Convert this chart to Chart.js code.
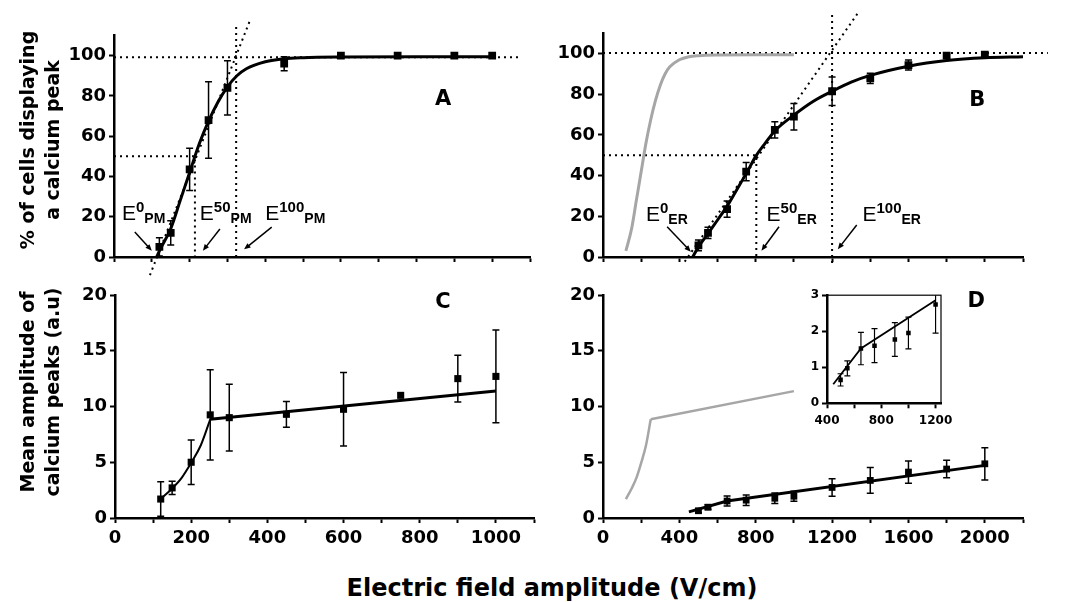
<!DOCTYPE html>
<html>
<head>
<meta charset="utf-8">
<script src="https://cdn.jsdelivr.net/npm/chart.js@4.4.0/dist/chart.umd.min.js"></script>
<style>
body { margin: 0; background: #fff; width: 1072px; height: 602px; position: relative; overflow: hidden; font-family: "DejaVu Sans", sans-serif; }
canvas { position: absolute; }
.ytitle { position: absolute; font-weight: bold; font-size: 19px; line-height: 25px; text-align: center; white-space: nowrap; transform: translate(-50%, -50%) rotate(-90deg); }
.xtitle { position: absolute; font-weight: bold; font-size: 24px; white-space: nowrap; transform: translateX(-50%); }
</style>
</head>
<body>
<canvas id="chartA" width="550" height="280" style="left:0;top:0"></canvas>
<canvas id="chartB" width="522" height="280" style="left:550px;top:0"></canvas>
<canvas id="chartC" width="550" height="280" style="left:0;top:280px"></canvas>
<canvas id="chartD" width="522" height="280" style="left:550px;top:280px"></canvas>
<canvas id="chartInset" width="180" height="140" style="left:780px;top:285px"></canvas>
<div class="ytitle" style="left:40px;top:140px">% of cells displaying<br>a calcium peak</div>
<div class="ytitle" style="left:40px;top:392px">Mean amplitude of<br>calcium peaks (a.u)</div>
<div class="xtitle" style="left:552px;top:574px">Electric field amplitude (V/cm)</div>
<script>
const BOLD = '"DejaVu Sans", sans-serif';
const FONT = '"Liberation Sans", Arial, sans-serif';

// A : % of cells, plasma membrane
const xA = [120, 150, 200, 250, 300, 450, 600, 750, 900, 1000];
const yA = [5, 12, 43.5, 68, 84, 96, 100, 100, 100, 100];
const errA = [4.5, 6, 10.5, 19, 13.5, 3.5, 0, 0, 0, 0];
const curveAx = [113, 120, 150, 175, 200, 225, 250, 275, 300, 325, 350, 400, 450, 500, 600, 800, 1000];
const curveAy = [0, 3, 14, 28, 42, 56, 67.5, 77, 84.5, 90, 93.5, 97, 98.5, 99, 99.3, 99.4, 99.4];

// B : % of cells, endoplasmic reticulum
const xB = [500, 550, 650, 750, 900, 1000, 1200, 1400, 1600, 1800, 2000];
const yB = [5.7, 11.9, 23.5, 42, 62.5, 69, 81.5, 87.8, 94.4, 99, 99.5];
const errB = [2.6, 2.75, 4, 4.5, 4, 6.5, 7, 2.5, 2.5, 1, 0.5];
const curveBx = [470, 500, 550, 600, 650, 700, 750, 800, 850, 900, 1000, 1100, 1200, 1300, 1400, 1600, 1800, 2000, 2200];
const curveBy = [0, 5, 11.5, 18.2, 25, 33, 41, 49.5, 56, 62, 69.8, 76.5, 81.5, 86, 89.3, 93.8, 96.6, 98, 98.5];

// C : mean amplitude, plasma membrane
const xC = [120, 150, 200, 250, 300, 450, 600, 750, 900, 1000];
const yC = [1.7, 2.7, 5.0, 9.25, 9.0, 9.3, 9.75, 11.0, 12.5, 12.7];
const errC = [1.55, 0.6, 2.0, 4.05, 3.0, 1.15, 3.3, 0, 2.1, 4.15];
const curveCx = [120, 150, 175, 200, 225, 250];
const curveCy = [1.7, 2.65, 3.6, 4.95, 6.5, 8.85];
const lineCx = [250, 1000];
const lineCy = [8.85, 11.38];

// D : mean amplitude, endoplasmic reticulum
const xD = [500, 550, 650, 750, 900, 1000, 1200, 1400, 1600, 1800, 2000];
const yD = [0.65, 0.97, 1.52, 1.6, 1.77, 1.95, 2.74, 3.37, 4.12, 4.39, 4.86];
const errD = [0.17, 0.21, 0.45, 0.47, 0.47, 0.44, 0.79, 1.15, 1.0, 0.78, 1.45];
const lineDx = [450, 650, 2000];
const lineDy = [0.55, 1.52, 4.72];
const insetLineX = [446, 650, 1200];
const insetLineY = [0.53, 1.52, 2.86];

// dotted construction lines
const dotA = [
  [[0, 1075], [99.2, 99.2]],
  [[0, 214, 214], [50, 50, 0]],
  [[323, 323], [0, 115]],
  [[95, 360], [-9, 117.7]]
];
const dotB = [
  [[0, 2330], [100.3, 100.3]],
  [[0, 803, 803], [50, 50, 0]],
  [[1200, 1200], [-3, 121]],
  [[428, 1343], [-2.3, 121]]
];

// labels: [x, y, sup, sub] (data units, left / baseline) and arrows [x1, y1, x2, y2]
const marks = {
  chartA: {
    letter: ['A', 870, 78],
    labels: [[21, 18.4, '0', 'PM'], [227, 18.4, '50', 'PM'], [400, 18.4, '100', 'PM']],
    arrows: [[55, 12.4, 100, 3.1], [280, 13.9, 235, 3.1], [417, 14.8, 344, 3.8]]
  },
  chartB: {
    letter: ['B', 1960, 77],
    labels: [[225, 17.8, '0', 'ER'], [857, 17.8, '50', 'ER'], [1359, 17.8, '100', 'ER']],
    arrows: [[336, 14.9, 460, 2.6], [922, 14.9, 830, 3.1], [1329, 15.7, 1230, 3.8]]
  },
  chartC: { letter: ['C', 861, 19.3] },
  chartD: { letter: ['D', 1955, 19.4] }
};

function pts(xs, ys) { return xs.map((x, i) => ({ x: x, y: ys[i] })); }

function pointSet(xs, ys, errs, r) {
  return { data: pts(xs, ys), errors: errs, showLine: false, pointStyle: 'rect', pointRadius: r,
    backgroundColor: '#000', borderColor: '#000', borderWidth: 0 };
}
function lineSet(xs, ys, color, w, smooth) {
  return { data: pts(xs, ys), showLine: true, borderColor: color, borderWidth: w, pointRadius: 0,
    tension: smooth ? 0.4 : 0, cubicInterpolationMode: smooth ? 'monotone' : 'default' };
}
function dotSet(d) {
  return { data: pts(d[0], d[1]), showLine: true, borderColor: '#000', borderWidth: 2,
    borderDash: [2, 4], pointRadius: 0, clip: false };
}

// tick values every `step` from min, labels only on multiples of `every`
function stepTicks(min, max, step) {
  return axis => {
    const t = [];
    for (let v = min; v <= max + 1e-9; v += step) t.push({ value: v });
    axis.ticks = t;
  };
}

function xAxis(min, max, step, every, labels, h, size) {
  return {
    type: 'linear', min: min, max: max,
    border: { color: '#000', width: 2.5 },
    grid: { drawOnChartArea: false, tickLength: 5, tickWidth: 2, tickColor: '#000' },
    ticks: { autoSkip: false, maxRotation: 0, padding: 5, color: '#000',
      font: { family: BOLD, size: size, weight: 'bold' },
      callback: v => (labels && Math.round(v) % every === 0 ? String(Math.round(v)) : '') },
    afterBuildTicks: stepTicks(min, max, step),
    afterFit: s => { s.height = h; }
  };
}
function yAxis(min, max, step, w, size) {
  return {
    type: 'linear', min: min, max: max,
    border: { color: '#000', width: 2.5 },
    grid: { drawOnChartArea: false, tickLength: 5, tickWidth: 2, tickColor: '#000' },
    ticks: { autoSkip: false, padding: 3, color: '#000',
      font: { family: BOLD, size: size, weight: 'bold' } },
    afterBuildTicks: stepTicks(min, max - (max - min) % step, step),
    afterFit: s => { s.width = w; }
  };
}

const errorBars = {
  id: 'errorBars',
  afterDatasetsDraw(chart) {
    const ctx = chart.ctx, a = chart.chartArea;
    const xs = chart.scales.x, ys = chart.scales.y;
    ctx.save();
    ctx.beginPath();
    ctx.rect(a.left, a.top, a.right - a.left, a.bottom - a.top);
    ctx.clip();
    chart.data.datasets.forEach(ds => {
      if (!ds.errors) return;
      ctx.strokeStyle = '#000';
      ctx.lineWidth = ds.errWidth || 1.5;
      const c = ds.cap || 3.5;
      ds.data.forEach((p, i) => {
        const e = ds.errors[i];
        if (!e) return;
        const x = xs.getPixelForValue(p.x);
        const y1 = ys.getPixelForValue(p.y + e), y2 = ys.getPixelForValue(p.y - e);
        ctx.beginPath();
        ctx.moveTo(x, y1); ctx.lineTo(x, y2);
        ctx.moveTo(x - c, y1); ctx.lineTo(x + c, y1);
        ctx.moveTo(x - c, y2); ctx.lineTo(x + c, y2);
        ctx.stroke();
      });
    });
    ctx.restore();
  }
};

const panelMarks = {
  id: 'panelMarks',
  afterDraw(chart) {
    const m = marks[chart.canvas.id];
    const ctx = chart.ctx, xs = chart.scales.x, ys = chart.scales.y;
    ctx.save();
    ctx.fillStyle = '#000';
    ctx.strokeStyle = '#000';
    if (chart.canvas.id === 'chartInset') {
      const a = chart.chartArea;
      ctx.lineWidth = 1.2;
      ctx.strokeRect(a.left, a.top, a.right - a.left, a.bottom - a.top);
    }
    if (!m) { ctx.restore(); return; }
    if (m.letter) {
      ctx.font = 'bold 21px ' + BOLD;
      ctx.textAlign = 'center';
      ctx.textBaseline = 'middle';
      ctx.fillText(m.letter[0], xs.getPixelForValue(m.letter[1]), ys.getPixelForValue(m.letter[2]));
    }
    ctx.textAlign = 'left';
    ctx.textBaseline = 'alphabetic';
    (m.labels || []).forEach(l => {
      let x = xs.getPixelForValue(l[0]);
      const y = ys.getPixelForValue(l[1]);
      ctx.font = '21px ' + FONT;
      ctx.fillText('E', x, y);
      x += ctx.measureText('E').width;
      ctx.font = 'bold 15px ' + FONT;
      ctx.fillText(l[2], x, y - 8);
      x += ctx.measureText(l[2]).width;
      ctx.font = 'bold 14px ' + FONT;
      ctx.fillText(l[3], x, y + 3);
    });
    ctx.lineWidth = 1.5;
    (m.arrows || []).forEach(r => {
      const x1 = xs.getPixelForValue(r[0]), y1 = ys.getPixelForValue(r[1]);
      const x2 = xs.getPixelForValue(r[2]), y2 = ys.getPixelForValue(r[3]);
      const ang = Math.atan2(y2 - y1, x2 - x1);
      ctx.beginPath();
      ctx.moveTo(x1, y1); ctx.lineTo(x2 - 4 * Math.cos(ang), y2 - 4 * Math.sin(ang));
      ctx.stroke();
      ctx.beginPath();
      ctx.moveTo(x2, y2);
      ctx.lineTo(x2 - 7 * Math.cos(ang - 0.4), y2 - 7 * Math.sin(ang - 0.4));
      ctx.lineTo(x2 - 7 * Math.cos(ang + 0.4), y2 - 7 * Math.sin(ang + 0.4));
      ctx.closePath();
      ctx.fill();
    });
    ctx.restore();
  }
};

Chart.register(errorBars, panelMarks);

function makeChart(id, datasets, pad, xScale, yScale) {
  return new Chart(document.getElementById(id).getContext('2d'), {
    type: 'scatter',
    data: { datasets: datasets },
    options: {
      responsive: false,
      animation: false,
      layout: { padding: pad },
      plugins: { legend: { display: false }, tooltip: { enabled: false } },
      scales: { x: xScale, y: yScale }
    }
  });
}

var chartA = makeChart('chartA',
  [pointSet(xA, yA, errA, 5.5), lineSet(curveAx, curveAy, '#000', 3, true)].concat(dotA.map(dotSet)),
  { top: 35.5, right: 20, left: 0, bottom: 0 },
  xAxis(0, 1100, 100, 200, false, 23, 18), yAxis(0, 110, 20, 114, 18));

var chartB = makeChart('chartB',
  [pointSet(xB, yB, errB, 5.5), lineSet(curveBx, curveBy, '#000', 3, true),
   lineSet(curveAx.slice(1), curveAy.slice(1), '#a6a6a6', 3, true)].concat(dotB.map(dotSet)),
  { top: 33.3, right: 49, left: 0, bottom: 0 },
  xAxis(0, 2200, 200, 400, false, 23, 18), yAxis(0, 110, 20, 53, 18));

var chartC = makeChart('chartC',
  [pointSet(xC, yC, errC, 5), lineSet(curveCx, curveCy, '#000', 2, true), lineSet(lineCx, lineCy, '#000', 3, false)],
  { top: 15, right: 16, left: 0, bottom: 0 },
  xAxis(0, 1100, 100, 200, true, 42, 18), yAxis(0, 20, 5, 115, 18));

var chartD = makeChart('chartD',
  [pointSet(xD, yD, errD, 4.8), lineSet(lineDx, lineDy, '#000', 3, false),
   lineSet(curveCx, curveCy, '#a6a6a6', 2.5, true), lineSet(lineCx, lineCy, '#a6a6a6', 2.5, false)],
  { top: 15, right: 49, left: 0, bottom: 0 },
  xAxis(0, 2200, 200, 400, true, 42, 18), yAxis(0, 20, 5, 53, 18));

var insetPts = pointSet(xD.slice(0, 7), yD.slice(0, 7), errD.slice(0, 7), 3.2);
insetPts.errWidth = 1.2;
insetPts.cap = 3;
var chartInset = makeChart('chartInset',
  [insetPts, lineSet(insetLineX, insetLineY, '#000', 1.8, false)],
  { top: 10, right: 19, left: 0, bottom: 0 },
  xAxis(400, 1240, 200, 400, true, 21.7, 12), yAxis(0, 3, 1, 47, 12));
</script>
</body>
</html>
